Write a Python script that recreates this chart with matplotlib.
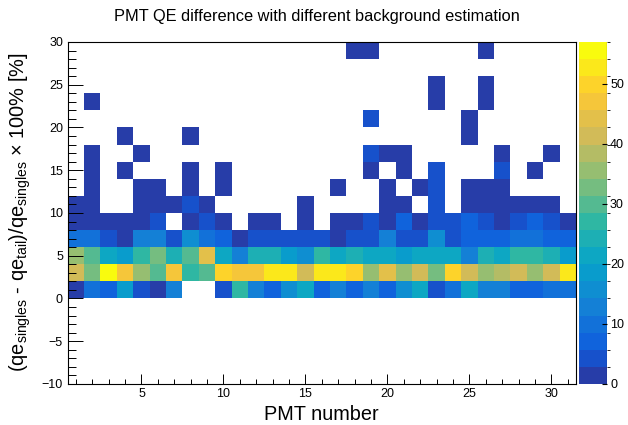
import numpy as np
import matplotlib
matplotlib.use('Agg')
import matplotlib.pyplot as plt
from matplotlib.colors import ListedColormap, BoundaryNorm, LinearSegmentedColormap
from matplotlib.ticker import MultipleLocator

plt.rcParams['font.family'] = ['Liberation Sans', 'DejaVu Sans']
plt.rcParams['mathtext.fontset'] = 'custom'
plt.rcParams['mathtext.rm'] = 'Liberation Sans'
plt.rcParams['mathtext.it'] = 'Liberation Sans:italic'

pmt_edges = np.arange(0.5, 32.0, 1.0)
y_edges = np.arange(-10, 31, 2)

# counts per y bin (lower edge in name), PMT 1..31
row_0_2 = [2, 10, 7, 19, 4, 2, 13, 0, 0, 4, 27, 13, 7, 16, 21, 7, 13, 8, 13, 7, 16, 21, 4, 9, 21, 13, 13, 7, 7, 10, 10]
row_2_4 = [41, 33, 57, 47, 36, 30, 47, 27, 30, 50, 47, 47, 53, 53, 41, 53, 53, 50, 36, 44, 36, 41, 33, 50, 41, 36, 38, 41, 36, 41, 53]
row_4_6 = [36, 30, 21, 19, 27, 33, 24, 30, 44, 21, 13, 24, 24, 19, 16, 27, 21, 24, 21, 21, 19, 21, 21, 21, 13, 24, 21, 27, 27, 24, 19]
row_6_8 = [10, 10, 4, 2, 13, 13, 4, 16, 10, 7, 2, 4, 4, 4, 4, 4, 2, 4, 4, 13, 4, 4, 16, 4, 7, 7, 7, 10, 10, 7, 7]
row_8_10 = [1, 2, 2, 1, 2, 4, 0, 2, 4, 2, 0, 2, 1, 0, 2, 0, 2, 2, 4, 2, 7, 2, 4, 4, 7, 4, 2, 4, 7, 4, 2]
row_10_12 = [1, 1, 0, 0, 1, 1, 1, 4, 1, 0, 0, 0, 0, 0, 1, 0, 0, 0, 0, 1, 1, 0, 4, 0, 2, 1, 1, 1, 1, 1, 0]
row_12_14 = [0, 1, 0, 0, 1, 1, 0, 1, 0, 1, 0, 0, 0, 0, 0, 0, 1, 0, 0, 1, 0, 1, 4, 0, 1, 1, 1, 0, 0, 0, 0]
row_14_16 = [0, 1, 0, 1, 0, 0, 0, 1, 0, 1, 0, 0, 0, 0, 0, 0, 0, 0, 1, 0, 1, 0, 4, 0, 0, 0, 4, 0, 1, 0, 0]
row_16_18 = [0, 1, 0, 0, 1, 0, 0, 0, 0, 0, 0, 0, 0, 0, 0, 0, 0, 0, 4, 1, 1, 0, 0, 0, 0, 0, 1, 0, 0, 1, 0]
row_18_20 = [0, 0, 0, 1, 0, 0, 0, 1, 0, 0, 0, 0, 0, 0, 0, 0, 0, 0, 0, 0, 0, 0, 0, 0, 1, 0, 0, 0, 0, 0, 0]
row_20_22 = [0, 0, 0, 0, 0, 0, 0, 0, 0, 0, 0, 0, 0, 0, 0, 0, 0, 0, 4, 0, 0, 0, 0, 0, 1, 0, 0, 0, 0, 0, 0]
row_22_24 = [0, 1, 0, 0, 0, 0, 0, 0, 0, 0, 0, 0, 0, 0, 0, 0, 0, 0, 0, 0, 0, 0, 1, 0, 0, 1, 0, 0, 0, 0, 0]
row_24_26 = [0, 0, 0, 0, 0, 0, 0, 0, 0, 0, 0, 0, 0, 0, 0, 0, 0, 0, 0, 0, 0, 0, 1, 0, 0, 1, 0, 0, 0, 0, 0]
row_26_28 = [0] * 31
row_28_30 = [0, 0, 0, 0, 0, 0, 0, 0, 0, 0, 0, 0, 0, 0, 0, 0, 0, 1, 1, 0, 0, 0, 0, 0, 0, 1, 0, 0, 0, 0, 0]

rows = [row_0_2, row_2_4, row_4_6, row_6_8, row_8_10, row_10_12, row_12_14,
        row_14_16, row_16_18, row_18_20, row_20_22, row_22_24, row_24_26,
        row_26_28, row_28_30]
counts = np.zeros((len(y_edges) - 1, len(pmt_edges) - 1))
counts[5:] = np.array(rows)
counts = np.ma.masked_equal(counts, 0)

zmax = 57
nlev = 20

# ROOT kBird palette
stops = [0.0, 0.125, 0.25, 0.375, 0.5, 0.625, 0.75, 0.875, 1.0]
red = [0.2082, 0.0592, 0.0780, 0.0232, 0.1802, 0.5301, 0.8186, 0.9956, 0.9764]
green = [0.1664, 0.3599, 0.5041, 0.6419, 0.7178, 0.7492, 0.7328, 0.7862, 0.9832]
blue = [0.5293, 0.8684, 0.8385, 0.7914, 0.6425, 0.4662, 0.3499, 0.1968, 0.0539]
bird = LinearSegmentedColormap.from_list(
    'bird', list(zip(stops, zip(red, green, blue))))
cols = [bird(int((i + 0.99) * 255 / nlev) / 254) for i in range(nlev)]
cmap = ListedColormap(cols)
levels = np.linspace(0, zmax, nlev + 1)
norm = BoundaryNorm(levels, cmap.N)

fig = plt.figure(figsize=(6.28, 4.25), dpi=100)
ax = fig.add_axes([0.1078, 0.0965, 0.8094, 0.8047])
cax = fig.add_axes([0.9215, 0.0965, 0.0455, 0.8047])

mesh = ax.pcolormesh(pmt_edges, y_edges, counts, cmap=cmap, norm=norm)

ax.set_xlim(0.5, 31.5)
ax.set_ylim(-10, 30)
ax.xaxis.set_major_locator(MultipleLocator(5))
ax.xaxis.set_minor_locator(MultipleLocator(1))
ax.yaxis.set_major_locator(MultipleLocator(5))
ax.yaxis.set_minor_locator(MultipleLocator(1))
ax.tick_params(axis='x', which='major', direction='in', length=7.2, width=0.7, labelsize=9, pad=3)
ax.tick_params(axis='x', which='minor', direction='in', length=3.6, width=0.7)
ax.tick_params(axis='y', which='major', direction='in', length=10.8, width=0.7, labelsize=9, pad=3.4)
ax.tick_params(axis='y', which='minor', direction='in', length=5.4, width=0.7)
for s in ax.spines.values():
    s.set_linewidth(0.8)

cbar = fig.colorbar(mesh, cax=cax, ticks=[0, 10, 20, 30, 40, 50])
cbar.outline.set_visible(False)
cax.axvline(1, color='k', lw=0.8)
cax.tick_params(direction='in', length=3.6, width=0.8, labelsize=9, pad=2)

fig.text(317 / 628, 1 - 20.7 / 425, 'PMT QE difference with different background estimation',
         ha='center', va='baseline', fontsize=11.8)
fig.text(321 / 628, 4.5 / 425, 'PMT number', ha='center', va='baseline', fontsize=14.3)
fig.text(20 / 628, 1 - 212 / 425,
         r'(qe$_{\mathrm{singles}}$ - qe$_{\mathrm{tail}}$)/qe$_{\mathrm{singles}}$ × 100% [%]',
         rotation=90, ha='center', va='center', fontsize=14.4)

plt.savefig('out.png', dpi=100)
